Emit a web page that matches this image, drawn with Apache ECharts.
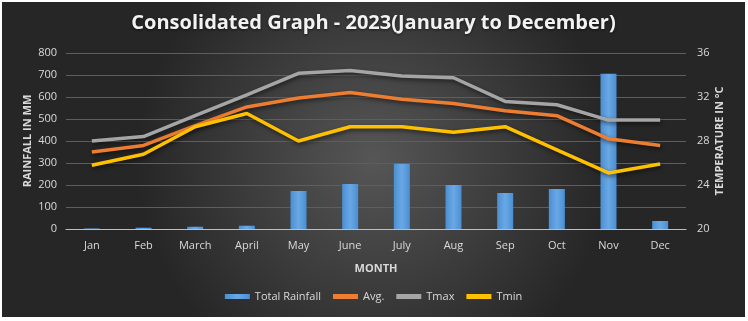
<!DOCTYPE html>
<html><head><meta charset="utf-8">
<script src="https://cdn.jsdelivr.net/npm/echarts@6/dist/echarts.min.js"></script>
<style>
html,body{margin:0;padding:0;background:#ffffff;width:748px;height:321px;overflow:hidden;}
#c{position:absolute;left:2px;top:2px;width:743px;height:315px;}
</style></head>
<body><div id="c"></div>
<script>
const months = ['Jan','Feb','March','April','May','June','July','Aug','Sep','Oct','Nov','Dec'];
const totalRainfall = [2, 6, 10, 15, 173, 205, 297, 200, 164, 182, 706, 36];
const avgTemp = [27.0, 27.6, 29.4, 31.1, 31.9, 32.4, 31.8, 31.4, 30.75, 30.3, 28.2, 27.6];
const tmax = [28.0, 28.4, 30.3, 32.2, 34.15, 34.4, 33.9, 33.75, 31.6, 31.3, 29.9, 29.9];
const tmin = [25.8, 26.8, 29.3, 30.5, 28.0, 29.3, 29.3, 28.8, 29.3, 27.2, 25.1, 25.9];
const rainTicks = [0, 800, 100];
const tempTicks = [20, 36, 4];

const chart = echarts.init(document.getElementById('c'), null, {renderer:'canvas'});
const font = '"Open Sans", "Noto Sans", sans-serif';
const lineStyle = (c) => ({color:c, width:3.5, shadowColor:'rgba(0,0,0,0.55)', shadowBlur:4, shadowOffsetY:2, shadowOffsetX:1});
chart.setOption({
  backgroundColor: {type:'radial', x:0.5, y:0.5, r:0.75, colorStops:[{offset:0,color:'#565656'},{offset:1,color:'#262626'}]},
  textStyle:{fontFamily:font},
  title:{text:'Consolidated Graph - 2023(January to December)', left:'center', top:6,
    textStyle:{color:'#f2f2f2', fontSize:20, fontWeight:'bold', fontFamily:font,
      textShadowColor:'rgba(0,0,0,0.6)', textShadowBlur:3, textShadowOffsetY:1}},
  grid:{left:64, right:59, top:51, bottom:88},
  legend:{bottom:10, left:'center', itemWidth:25, itemHeight:5, itemGap:12,
    textStyle:{color:'#d9d9d9', fontSize:11, fontFamily:font},
    data:[{name:'Total Rainfall', icon:'rect'},{name:'Avg.', icon:'rect'},{name:'Tmax', icon:'rect'},{name:'Tmin', icon:'rect'}]},
  xAxis:{type:'category', data:months, boundaryGap:true,
    axisLine:{lineStyle:{color:'#bfbfbf', width:1}}, axisTick:{show:false},
    axisLabel:{color:'#d9d9d9', fontSize:11, margin:11},
    name:'MONTH', nameLocation:'middle', nameGap:34, nameMoveOverlap:false,
    nameTextStyle:{color:'#d9d9d9', fontSize:11, fontWeight:'bold'}},
  yAxis:[
    {type:'value', min:rainTicks[0], max:rainTicks[1], interval:rainTicks[2],
     axisLine:{show:false}, axisTick:{show:false},
     axisLabel:{color:'#d9d9d9', fontSize:11, margin:9},
     splitLine:{lineStyle:{color:'#5e5e5e', width:1}},
     name:'RAINFALL IN MM', nameLocation:'middle', nameRotate:90, nameGap:33, nameMoveOverlap:false,
     nameTextStyle:{color:'#d9d9d9', fontSize:11, fontWeight:'bold'}},
    {type:'value', min:tempTicks[0], max:tempTicks[1], interval:tempTicks[2], position:'right',
     axisLine:{show:false}, axisTick:{show:false},
     axisLabel:{color:'#d9d9d9', fontSize:11, margin:11},
     splitLine:{show:false},
     name:'TEMPERATURE IN °C', nameLocation:'middle', nameRotate:90, nameGap:28, nameMoveOverlap:false,
     nameTextStyle:{color:'#d9d9d9', fontSize:11, fontWeight:'bold'}}
  ],
  series:[
    {name:'Total Rainfall', type:'bar', yAxisIndex:0, data:totalRainfall, barWidth:16,
     itemStyle:{color:{type:'linear',x:0,y:0,x2:1,y2:0,colorStops:[{offset:0,color:'#4a8fd3'},{offset:0.5,color:'#6aa8e4'},{offset:1,color:'#4a8fd3'}]}}},
    {name:'Avg.', type:'line', yAxisIndex:1, data:avgTemp, symbol:'none', itemStyle:{color:'#ed7d31'}, lineStyle:lineStyle('#ed7d31')},
    {name:'Tmax', type:'line', yAxisIndex:1, data:tmax, symbol:'none', itemStyle:{color:'#a5a5a5'}, lineStyle:lineStyle('#a5a5a5')},
    {name:'Tmin', type:'line', yAxisIndex:1, data:tmin, symbol:'none', itemStyle:{color:'#ffc000'}, lineStyle:lineStyle('#ffc000')}
  ]
});
</script></body></html>
